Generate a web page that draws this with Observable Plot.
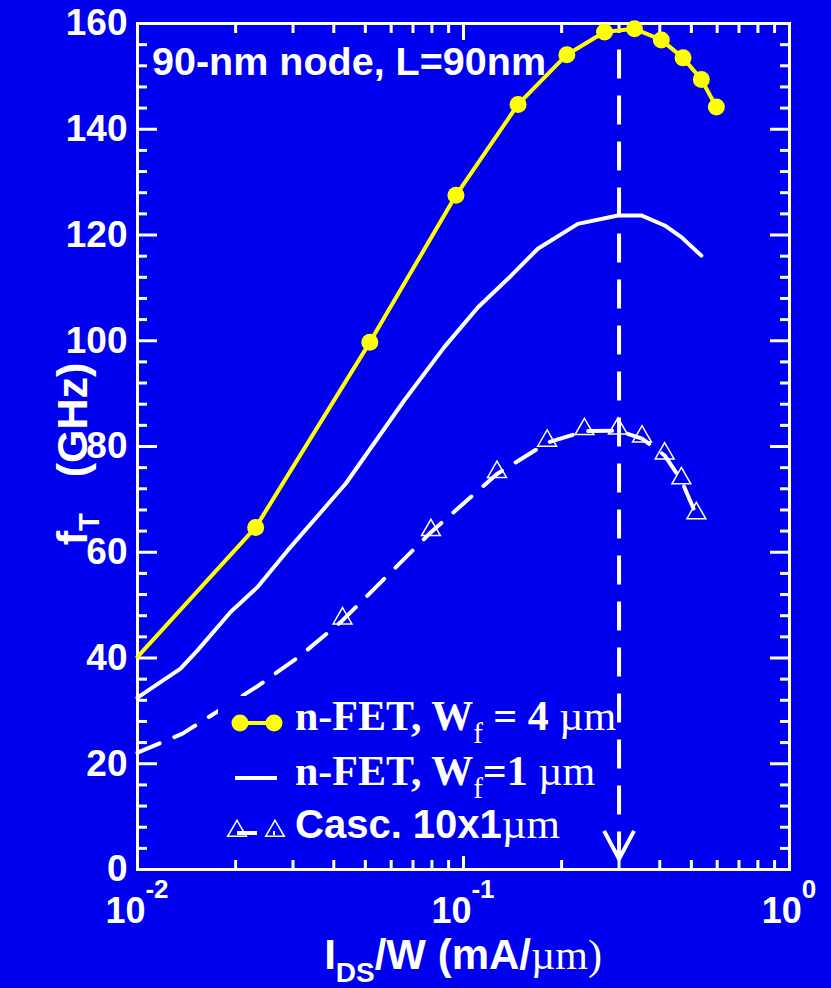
<!DOCTYPE html>
<html>
<head>
<meta charset="utf-8">
<script src="https://cdn.jsdelivr.net/npm/d3@7"></script>
<script src="https://cdn.jsdelivr.net/npm/@observablehq/plot@0.6"></script>
<style>
html, body { margin: 0; padding: 0; background: #0000f0; }
#chart { width: 831px; height: 988px; }
</style>
</head>
<body>
<div id="chart"></div>
<script>
// ---------- data ----------
const titleText = "90-nm node, L=90nm";

const yMajor = [0, 20, 40, 60, 80, 100, 120, 140, 160];
const yMinor = [4, 8, 12, 16, 24, 28, 32, 36, 44, 48, 52, 56, 64, 68, 72, 76, 84, 88, 92, 96,
                104, 108, 112, 116, 124, 128, 132, 136, 144, 148, 152, 156];
const xMajor = [0.01, 0.1, 1];
const xMinor = [0.02, 0.03, 0.04, 0.05, 0.06, 0.07, 0.08, 0.09, 0.2, 0.3, 0.4, 0.5, 0.6, 0.7, 0.8, 0.9];
const xTickBase = ["10", "10", "10"];
const xTickExp = ["-2", "-1", "0"];

// n-FET, Wf = 4 um (first point is line start without marker)
const w4X = [0.01, 0.02304, 0.0516, 0.0948, 0.147, 0.2075, 0.2708, 0.3347, 0.4044, 0.4716, 0.5366, 0.5967];
const w4Y = [40.2, 64.7, 99.7, 127.5, 144.7, 154.1, 158.4, 159.0, 156.9, 153.5, 149.4, 144.2];
const w4Marker = [false, true, true, true, true, true, true, true, true, true, true, true];

// n-FET, Wf = 1 um
const w1X = [0.01, 0.01355, 0.01526, 0.0193, 0.02332, 0.02884, 0.04355, 0.06578, 0.0873, 0.1106,
             0.14, 0.169, 0.2243, 0.2977, 0.3509, 0.414, 0.4659, 0.5366];
const w1Y = [32.5, 38.0, 41.4, 48.7, 53.4, 60.3, 73.0, 88.7, 98.8, 106.3,
             112.3, 117.4, 122.1, 123.7, 123.7, 121.8, 119.6, 116.1];

// Casc. 10x1um
const cascX = [0.01, 0.01374, 0.02353, 0.03168, 0.04255, 0.07946, 0.1267, 0.1805, 0.2350, 0.2977,
               0.3528, 0.414, 0.4659, 0.5179];
const cascY = [22.1, 25.7, 34.8, 40.5, 47.1, 63.8, 74.8, 80.7, 82.9, 83.0,
               81.5, 78.3, 73.6, 67.0];
const cascMarker = [false, false, false, false, true, true, true, true, true, true, true, true, true, true];

// peak-fT current density marker
const peakX = [0.3];
const peakTop = 155;
const peakBottom = 2;

// ---------- styling ----------
const BG = "#0000f0";
const YELLOW = "#ffff00";
const SANS = "'Liberation Sans', Arial, Helvetica, sans-serif";
const SERIF = "'Liberation Serif', 'Times New Roman', Times, serif";

const w4 = w4X.map((x, i) => ({x, y: w4Y[i], m: w4Marker[i]}));
const w1 = w1X.map((x, i) => ({x, y: w1Y[i]}));
const casc = cascX.map((x, i) => ({x, y: cascY[i], m: cascMarker[i]}));

const symbolV = {
  draw(ctx) {
    ctx.moveTo(-15, -28);
    ctx.lineTo(0, 0);
    ctx.lineTo(15, -28);
  }
};

const blank = () => "";

const plot = Plot.plot({
  width: 831,
  height: 988,
  marginLeft: 137,
  marginRight: 42,
  marginTop: 23,
  marginBottom: 119,
  style: {
    background: BG,
    color: "white",
    fontFamily: SANS,
    fontWeight: "bold",
    fontSize: "37px",
    overflow: "visible"
  },
  x: {type: "log", domain: [0.01, 1]},
  y: {domain: [0, 160]},
  marks: [
    // inward ticks
    Plot.axisY({ticks: yMajor, anchor: "left", tickSize: 20, dx: 20, tickFormat: blank, label: null, strokeWidth: 3}),
    Plot.axisY({ticks: yMinor, anchor: "left", tickSize: 10, dx: 10, tickFormat: blank, label: null, strokeWidth: 3}),
    Plot.axisY({ticks: yMajor, anchor: "right", tickSize: 20, dx: -20, tickFormat: blank, label: null, strokeWidth: 3}),
    Plot.axisY({ticks: yMinor, anchor: "right", tickSize: 10, dx: -10, tickFormat: blank, label: null, strokeWidth: 3}),
    Plot.axisX({ticks: xMajor, anchor: "bottom", tickSize: 16, dy: -16, tickFormat: blank, label: null, strokeWidth: 3}),
    Plot.axisX({ticks: xMinor, anchor: "bottom", tickSize: 9, dy: -9, tickFormat: blank, label: null, strokeWidth: 3}),
    Plot.axisX({ticks: xMajor, anchor: "top", tickSize: 16, dy: 16, tickFormat: blank, label: null, strokeWidth: 3}),
    Plot.axisX({ticks: xMinor, anchor: "top", tickSize: 9, dy: 9, tickFormat: blank, label: null, strokeWidth: 3}),
    // y tick labels
    Plot.axisY({ticks: yMajor, anchor: "left", tickSize: 0, tickPadding: 10, tickFormat: d => String(d), label: null, fontSize: 37}),
    // frame
    Plot.frame({stroke: "white", strokeWidth: 3}),
    // data
    Plot.line(w1, {x: "x", y: "y", stroke: "white", strokeWidth: 4, strokeLinejoin: "round"}),
    Plot.line(casc, {x: "x", y: "y", stroke: "white", strokeWidth: 4, strokeDasharray: "24,16"}),
    Plot.dot(casc, {x: "x", y: "y", filter: d => d.m, symbol: "triangle", r: 7, dy: -2, fill: "none", stroke: "white", strokeWidth: 1.5}),
    Plot.line(w4, {x: "x", y: "y", stroke: YELLOW, strokeWidth: 4}),
    Plot.dot(w4, {x: "x", y: "y", filter: d => d.m, r: 8.5, fill: YELLOW, stroke: "none"}),
    // peak marker
    Plot.ruleX(peakX, {x: d => d, y1: () => peakTop, y2: () => peakBottom, stroke: "white", strokeWidth: 4, strokeDasharray: "29,17"}),
    Plot.dot(peakX, {x: d => d, y: () => peakBottom, symbol: symbolV, fill: "none", stroke: "white", strokeWidth: 4})
  ]
});

document.getElementById("chart").appendChild(plot);

const sx = plot.scale("x");
const sy = plot.scale("y");
const svg = d3.select(plot);
const xLeft = sx.apply(0.01), xRight = sx.apply(1);
const yBottom = sy.apply(0), yTop = sy.apply(160);

// x tick labels with superscripts
xMajor.forEach((v, i) => {
  const t = svg.append("text")
    .attr("x", sx.apply(v))
    .attr("y", yBottom + 54)
    .attr("text-anchor", "middle")
    .attr("fill", "white")
    .style("font-family", SANS)
    .style("font-weight", "bold")
    .style("font-size", "36px");
  t.append("tspan").text(xTickBase[i]);
  t.append("tspan").attr("dy", -25).style("font-size", "26px").text(xTickExp[i]);
});

// x axis label
{
  const t = svg.append("text")
    .attr("x", (xLeft + xRight) / 2)
    .attr("y", yBottom + 100)
    .attr("text-anchor", "middle")
    .attr("fill", "white")
    .style("font-family", SANS)
    .style("font-weight", "bold")
    .style("font-size", "42px");
  t.append("tspan").text("I");
  t.append("tspan").attr("dy", 13).style("font-size", "28px").text("DS");
  t.append("tspan").attr("dy", -13).text("/W (mA/");
  t.append("tspan").style("font-family", SERIF).style("font-weight", "normal").text("\u00b5m)");
}

// y axis label
{
  const t = svg.append("text")
    .attr("transform", `translate(${xLeft - 50},${(yTop + yBottom) / 2 + 8}) rotate(-90)`)
    .attr("text-anchor", "middle")
    .attr("fill", "white")
    .style("font-family", SANS)
    .style("font-weight", "bold")
    .style("font-size", "43px");
  t.append("tspan").text("f");
  t.append("tspan").attr("dy", 12).style("font-size", "29px").text("T");
  t.append("tspan").attr("dy", -12).attr("dx", 36).text("(GHz)");
}

// title
svg.append("text")
  .attr("x", xLeft + 15)
  .attr("y", yTop + 52)
  .attr("text-anchor", "start")
  .attr("fill", "white")
  .style("font-family", SANS)
  .style("font-weight", "bold")
  .style("font-size", "39.5px")
  .text(titleText);

// legend
{
  const lx = xLeft + 81, ly = yBottom - 173;
  const g = svg.append("g").attr("text-anchor", "start");
  g.append("rect").attr("x", lx).attr("y", ly).attr("width", 380).attr("height", 160).attr("fill", BG);

  // row 1
  const r1 = ly + 27;
  g.append("line").attr("x1", lx + 22).attr("x2", lx + 56).attr("y1", r1).attr("y2", r1)
    .attr("stroke", YELLOW).attr("stroke-width", 4);
  [lx + 22, lx + 56].forEach(cx => g.append("circle").attr("cx", cx).attr("cy", r1).attr("r", 8.5).attr("fill", YELLOW));
  const t1 = g.append("text").attr("x", lx + 77).attr("y", r1 + 7).attr("text-anchor", "start").attr("fill", "white")
    .style("font-family", SERIF).style("font-weight", "bold").style("font-size", "42px");
  t1.append("tspan").text("n-FET, W");
  t1.append("tspan").attr("dy", 13).style("font-size", "29px").style("font-weight", "normal").text("f");
  t1.append("tspan").attr("dy", -13).text("\u00a0= 4\u00a0");
  t1.append("tspan").style("font-weight", "normal").text("\u00b5m");

  // row 2
  const r2 = ly + 82;
  g.append("line").attr("x1", lx + 17).attr("x2", lx + 59).attr("y1", r2).attr("y2", r2)
    .attr("stroke", "white").attr("stroke-width", 4);
  const t2 = g.append("text").attr("x", lx + 77).attr("y", r2 + 7).attr("text-anchor", "start").attr("fill", "white")
    .style("font-family", SERIF).style("font-weight", "bold").style("font-size", "42px");
  t2.append("tspan").text("n-FET, W");
  t2.append("tspan").attr("dy", 13).style("font-size", "29px").style("font-weight", "normal").text("f");
  t2.append("tspan").attr("dy", -13).text("=1\u00a0");
  t2.append("tspan").style("font-weight", "normal").text("\u00b5m");

  // row 3
  const r3 = ly + 135;
  g.append("line").attr("x1", lx + 19).attr("x2", lx + 57).attr("y1", r3 + 2).attr("y2", r3 + 2)
    .attr("stroke", "white").attr("stroke-width", 4).attr("stroke-dasharray", "20,16");
  const tri = d3.symbol(d3.symbolTriangle, 150)();
  [lx + 19, lx + 57].forEach(cx => g.append("path").attr("d", tri)
    .attr("transform", `translate(${cx},${r3})`).attr("fill", "none").attr("stroke", "white").attr("stroke-width", 1.5));
  const t3 = g.append("text").attr("x", lx + 77).attr("y", r3 + 7).attr("text-anchor", "start").attr("fill", "white")
    .style("font-family", SANS).style("font-weight", "bold").style("font-size", "40px");
  t3.append("tspan").text("Casc. 10x1");
  t3.append("tspan").style("font-family", SERIF).style("font-weight", "normal").style("font-size", "43px").text("\u00b5m");
}
</script>
</body>
</html>
